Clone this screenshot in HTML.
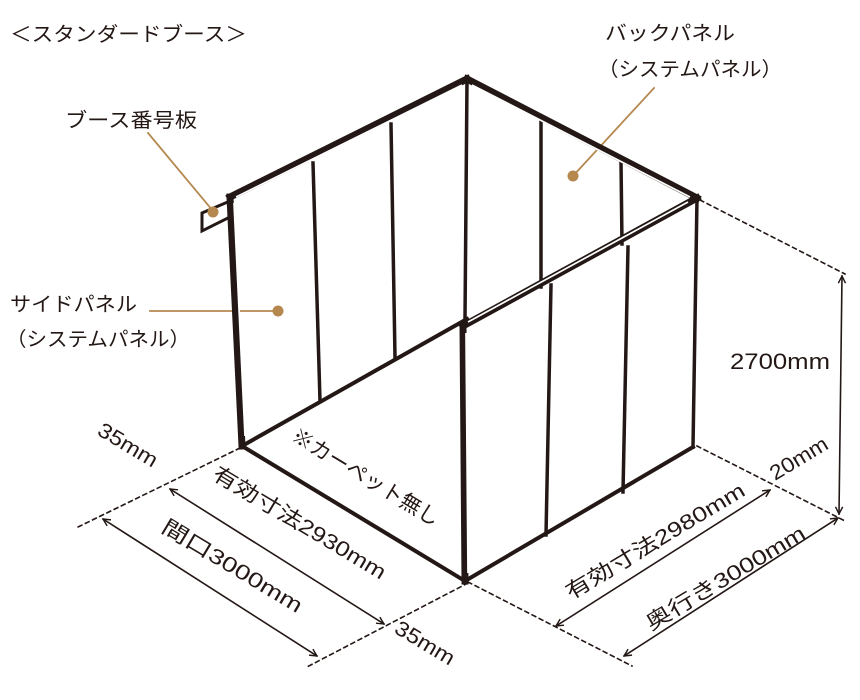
<!DOCTYPE html>
<html><head><meta charset="utf-8"><style>
html,body{margin:0;padding:0;background:#fff;}
svg{display:block;}
text{font-family:"Liberation Sans","Noto Sans CJK JP",sans-serif;fill:#231815;}
</style></head><body>
<svg width="860" height="700" viewBox="0 0 860 700" xmlns="http://www.w3.org/2000/svg">
<defs>
<marker id="ar" viewBox="0 0 10 10" refX="9" refY="5" markerWidth="9" markerHeight="9" orient="auto-start-reverse" markerUnits="userSpaceOnUse">
<path d="M1,1 L9,5 L1,9" fill="none" stroke="#231815" stroke-width="1.6"/>
</marker>
</defs>
<g stroke="#231815" fill="none" stroke-linecap="square">
<g stroke-width="1.6" stroke-dasharray="4,4">
<line x1="240" y1="448" x2="78" y2="527"/>
<line x1="468" y1="583" x2="305" y2="668"/>
<line x1="700" y1="200" x2="845" y2="274"/>
<line x1="697" y1="446" x2="845" y2="521"/>
<line x1="468" y1="582" x2="632" y2="666"/>
</g>
<g stroke-width="1.6">
<line x1="170" y1="489" x2="384" y2="624" marker-start="url(#ar)" marker-end="url(#ar)"/>
<line x1="103" y1="519" x2="317" y2="656" marker-start="url(#ar)" marker-end="url(#ar)"/>
<line x1="556" y1="626" x2="770" y2="490" marker-start="url(#ar)" marker-end="url(#ar)"/>
<line x1="624" y1="656" x2="838" y2="518" marker-start="url(#ar)" marker-end="url(#ar)"/>
<line x1="842" y1="276" x2="839" y2="514" marker-start="url(#ar)" marker-end="url(#ar)"/>
</g>
<g stroke="#b5884f" stroke-width="1.8">
<line x1="148" y1="133" x2="213" y2="211"/>
<line x1="150" y1="311" x2="277" y2="311"/>
<line x1="654" y1="88" x2="573" y2="176"/>
</g>
<path d="M202,213 L230,201 L230,217 L202,231 Z" stroke-width="3" stroke-linejoin="miter"/>
<g stroke-width="4">
<line x1="242" y1="446" x2="467" y2="319"/>
<line x1="242" y1="446" x2="465" y2="581"/>
<line x1="465" y1="581" x2="693" y2="447"/>
</g>
<g stroke-width="3.5">
<line x1="313" y1="163" x2="320" y2="401"/>
<line x1="391" y1="124" x2="395" y2="357"/>
<line x1="467" y1="80" x2="465" y2="319"/>
<line x1="541" y1="121" x2="541" y2="287"/>
<line x1="621" y1="161" x2="622" y2="244"/>
<line x1="551" y1="285" x2="546" y2="535"/>
<line x1="628" y1="247" x2="623" y2="492"/>
<line x1="697" y1="198" x2="693" y2="447"/>
</g>
<g stroke-width="7">
<line x1="230" y1="197" x2="242" y2="446"/>
<line x1="230" y1="197" x2="467" y2="79"/>
<line x1="467" y1="79" x2="697" y2="198"/>
<line x1="697" y1="198" x2="463" y2="326"/>
<line x1="463" y1="326" x2="465" y2="581"/>
</g>
<g stroke="#fff" stroke-width="1.7" stroke-linecap="butt">
<line x1="234" y1="203" x2="245" y2="436"/>
<line x1="236" y1="197" x2="462" y2="85"/>
<line x1="472" y1="85" x2="690" y2="197"/>
<line x1="688" y1="202" x2="468" y2="322"/>
<line x1="466" y1="333" x2="468" y2="573"/>
</g>
</g>
<g fill="#b5884f">
<circle cx="213" cy="212" r="5.5"/>
<circle cx="278" cy="311" r="5.5"/>
<circle cx="573" cy="176" r="5.5"/>
</g>
<g font-size="20">
<text x="10" y="41" textLength="237" lengthAdjust="spacingAndGlyphs">＜スタンダードブース＞</text>
<text x="65" y="127" textLength="132" lengthAdjust="spacingAndGlyphs">ブース番号板</text>
<text x="10" y="311" textLength="127" lengthAdjust="spacingAndGlyphs">サイドパネル</text>
<text x="6" y="346" textLength="184" lengthAdjust="spacingAndGlyphs">（システムパネル）</text>
<text x="605" y="40" textLength="130" lengthAdjust="spacingAndGlyphs">バックパネル</text>
<text x="598" y="76" textLength="184" lengthAdjust="spacingAndGlyphs">（システムパネル）</text>
<text x="730" y="369" font-size="22" textLength="100" lengthAdjust="spacingAndGlyphs">2700mm</text>
</g>
<g font-size="21">
<text transform="translate(290,440) rotate(31)" textLength="168" lengthAdjust="spacingAndGlyphs">※カーペット無し</text>
<text transform="translate(211,478) rotate(31)" textLength="198" lengthAdjust="spacingAndGlyphs">有効寸法2930mm</text>
<text transform="translate(160,531) rotate(31)" textLength="160" lengthAdjust="spacingAndGlyphs">間口3000mm</text>
<text transform="translate(96,434) rotate(31)" textLength="66" lengthAdjust="spacingAndGlyphs">35mm</text>
<text transform="translate(393,632) rotate(31)" textLength="66" lengthAdjust="spacingAndGlyphs">35mm</text>
<text transform="translate(571,600) rotate(-31)" textLength="205" lengthAdjust="spacingAndGlyphs">有効寸法2980mm</text>
<text transform="translate(651,631) rotate(-31)" textLength="182" lengthAdjust="spacingAndGlyphs">奥行き3000mm</text>
<text transform="translate(775,481) rotate(-31)" textLength="64" lengthAdjust="spacingAndGlyphs">20mm</text>
</g>
</svg>
</body></html>
